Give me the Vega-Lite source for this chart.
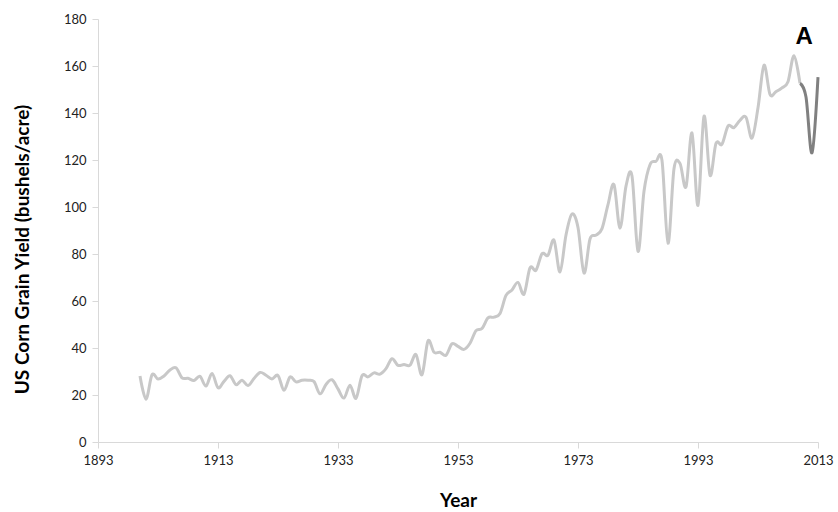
{
  "$schema": "https://vega.github.io/schema/vega-lite/v6.json",
  "width": 720,
  "height": 423,
  "autosize": "none",
  "padding": {"left": 98, "top": 19, "right": 20, "bottom": 70},
  "background": "white",
  "config": {
    "view": {"stroke": null},
    "font": "Lato",
    "axis": {
      "grid": false,
      "domainColor": "#d9d9d9",
      "tickColor": "#d9d9d9",
      "labelColor": "#222222",
      "labelFontSize": 13,
      "titleColor": "#000000",
      "titleFontWeight": "bold"
    }
  },
  "datasets": {
    "yield": [
      {"year": 1900, "y": 28.1}, {"year": 1901, "y": 18.2}, {"year": 1902, "y": 28.6}, {"year": 1903, "y": 26.8},
      {"year": 1904, "y": 28.1}, {"year": 1905, "y": 30.6}, {"year": 1906, "y": 31.6}, {"year": 1907, "y": 27.3},
      {"year": 1908, "y": 27.1}, {"year": 1909, "y": 26.2}, {"year": 1910, "y": 27.9}, {"year": 1911, "y": 23.8},
      {"year": 1912, "y": 29.2}, {"year": 1913, "y": 23.1}, {"year": 1914, "y": 25.8}, {"year": 1915, "y": 28.2},
      {"year": 1916, "y": 24.4}, {"year": 1917, "y": 26.3}, {"year": 1918, "y": 24.0}, {"year": 1919, "y": 27.0},
      {"year": 1920, "y": 29.6}, {"year": 1921, "y": 28.4}, {"year": 1922, "y": 26.8}, {"year": 1923, "y": 28.3},
      {"year": 1924, "y": 22.0}, {"year": 1925, "y": 27.7}, {"year": 1926, "y": 25.6}, {"year": 1927, "y": 26.3},
      {"year": 1928, "y": 26.3}, {"year": 1929, "y": 25.7}, {"year": 1930, "y": 20.5}, {"year": 1931, "y": 24.5},
      {"year": 1932, "y": 26.5}, {"year": 1933, "y": 22.6}, {"year": 1934, "y": 18.7}, {"year": 1935, "y": 24.2},
      {"year": 1936, "y": 18.6}, {"year": 1937, "y": 28.2}, {"year": 1938, "y": 27.7}, {"year": 1939, "y": 29.4},
      {"year": 1940, "y": 28.9}, {"year": 1941, "y": 31.2}, {"year": 1942, "y": 35.4}, {"year": 1943, "y": 32.6},
      {"year": 1944, "y": 33.0}, {"year": 1945, "y": 32.7}, {"year": 1946, "y": 37.2}, {"year": 1947, "y": 28.6},
      {"year": 1948, "y": 43.0}, {"year": 1949, "y": 38.2}, {"year": 1950, "y": 38.2}, {"year": 1951, "y": 36.9},
      {"year": 1952, "y": 41.8}, {"year": 1953, "y": 40.7}, {"year": 1954, "y": 39.4}, {"year": 1955, "y": 42.0},
      {"year": 1956, "y": 47.4}, {"year": 1957, "y": 48.3}, {"year": 1958, "y": 52.8}, {"year": 1959, "y": 53.1},
      {"year": 1960, "y": 54.7}, {"year": 1961, "y": 62.4}, {"year": 1962, "y": 64.7}, {"year": 1963, "y": 67.9},
      {"year": 1964, "y": 62.9}, {"year": 1965, "y": 74.1}, {"year": 1966, "y": 73.1}, {"year": 1967, "y": 80.1},
      {"year": 1968, "y": 79.5}, {"year": 1969, "y": 85.9}, {"year": 1970, "y": 72.4}, {"year": 1971, "y": 88.1},
      {"year": 1972, "y": 97.0}, {"year": 1973, "y": 91.3}, {"year": 1974, "y": 71.9}, {"year": 1975, "y": 86.4},
      {"year": 1976, "y": 88.0}, {"year": 1977, "y": 90.8}, {"year": 1978, "y": 101.0}, {"year": 1979, "y": 109.5},
      {"year": 1980, "y": 91.0}, {"year": 1981, "y": 108.9}, {"year": 1982, "y": 113.2}, {"year": 1983, "y": 81.1},
      {"year": 1984, "y": 106.7}, {"year": 1985, "y": 118.0}, {"year": 1986, "y": 119.4}, {"year": 1987, "y": 119.8},
      {"year": 1988, "y": 84.6}, {"year": 1989, "y": 116.3}, {"year": 1990, "y": 118.5}, {"year": 1991, "y": 108.6},
      {"year": 1992, "y": 131.5}, {"year": 1993, "y": 100.7}, {"year": 1994, "y": 138.6}, {"year": 1995, "y": 113.5},
      {"year": 1996, "y": 127.1}, {"year": 1997, "y": 126.7}, {"year": 1998, "y": 134.4}, {"year": 1999, "y": 133.8},
      {"year": 2000, "y": 136.9}, {"year": 2001, "y": 138.2}, {"year": 2002, "y": 129.3}, {"year": 2003, "y": 142.2},
      {"year": 2004, "y": 160.3}, {"year": 2005, "y": 147.9}, {"year": 2006, "y": 149.1}, {"year": 2007, "y": 150.7},
      {"year": 2008, "y": 153.3}, {"year": 2009, "y": 164.4}, {"year": 2010, "y": 152.6}
    ],
    "recent": [
      {"year": 2010, "y": 152.6}, {"year": 2011, "y": 146.8}, {"year": 2012, "y": 123.1}, {"year": 2013, "y": 155.3}
    ],
    "label": [
      {"year": 2010.7, "y": 172.5, "text": "A"}
    ]
  },
  "encoding": {
    "x": {
      "field": "year",
      "type": "quantitative",
      "scale": {"domain": [1893, 2013], "nice": false, "zero": false},
      "axis": {
        "values": [1893, 1913, 1933, 1953, 1973, 1993, 2013],
        "format": "d",
        "title": "Year",
        "titleFontSize": 19,
        "titlePadding": 24,
        "tickSize": 6,
        "labelPadding": 6,
        "labelFlush": false
      }
    },
    "y": {
      "field": "y",
      "type": "quantitative",
      "scale": {"domain": [0, 180], "nice": false},
      "axis": {
        "values": [0, 20, 40, 60, 80, 100, 120, 140, 160, 180],
        "title": "US Corn Grain Yield (bushels/acre)",
        "titleFontSize": 19,
        "titlePadding": 31,
        "titleY": 230,
        "tickSize": 6,
        "labelPadding": 6
      }
    }
  },
  "layer": [
    {
      "data": {"name": "yield"},
      "mark": {"type": "line", "interpolate": "cardinal", "color": "#c8c8c8", "strokeWidth": 3}
    },
    {
      "data": {"name": "recent"},
      "mark": {"type": "line", "interpolate": "cardinal", "color": "#808080", "strokeWidth": 3}
    },
    {
      "data": {"name": "label"},
      "mark": {"type": "text", "fontSize": 24, "fontWeight": "bold", "color": "#000000", "font": "Liberation Sans"},
      "encoding": {"text": {"field": "text", "type": "nominal"}}
    }
  ]
}
